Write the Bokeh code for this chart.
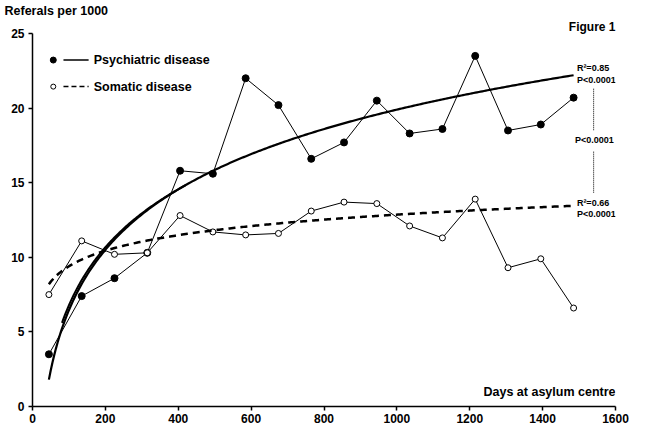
import numpy as np
from bokeh.plotting import figure
from bokeh.models import Range1d, Label, Title
from bokeh.embed import file_html
from bokeh.resources import INLINE

# ---- data ----
days = [45, 135, 225, 315, 405, 495, 585, 675, 765, 855, 945, 1035, 1125, 1215, 1305, 1395, 1485]
psychiatric = [3.5, 7.4, 8.6, 10.3, 15.8, 15.6, 22.0, 20.2, 16.6, 17.7, 20.5, 18.3, 18.6, 23.5, 18.5, 18.9, 20.7]
somatic = [7.5, 11.1, 10.2, 10.3, 12.8, 11.7, 11.5, 11.6, 13.1, 13.7, 13.6, 12.1, 11.3, 13.9, 9.3, 9.9, 6.6]

# logarithmic trend lines y = a + b*ln(x), coefficients
psy_fit_a, psy_fit_b = -20.41, 5.835
psy_fit2_a, psy_fit2_b = -19.02, 5.604
som_fit_a, som_fit_b = 2.483, 1.502

x_ticks = [0, 200, 400, 600, 800, 1000, 1200, 1400, 1600]
y_ticks = [0, 5, 10, 15, 20, 25]

FONT = "Liberation Sans"

p = figure(width=629, height=427, output_backend="svg", toolbar_location=None,
           x_range=Range1d(0, 1600), y_range=Range1d(0, 25),
           min_border_left=32, min_border_right=14, min_border_top=33, min_border_bottom=21)
p.outline_line_color = None
p.xgrid.visible = False
p.ygrid.visible = False
p.background_fill_color = "white"
p.border_fill_color = "white"

# titles above the frame: y-axis caption (outer) and "Figure 1" (inner)
p.title.text = "Referals per 1000"
p.title.align = "left"
p.title.offset = -28
p.title.standoff = 0
p.title.text_font = FONT
p.title.text_font_style = "bold"
p.title.text_font_size = "12.5px"
p.title.text_color = "black"
fig_title = Title(text="Figure 1", align="right", standoff=0, text_font=FONT,
                  text_font_style="bold", text_font_size="12px", text_color="black")
p.add_layout(fig_title, "above")

for ax in (p.xaxis[0], p.yaxis[0]):
    ax.axis_line_width = 1.5
    ax.major_tick_line_width = 1.5
    ax.major_tick_in = 0
    ax.major_tick_out = 4
    ax.minor_tick_line_color = None
    ax.major_label_text_font = FONT
    ax.major_label_text_font_style = "bold"
    ax.major_label_text_font_size = "12px"
    ax.major_label_text_color = "black"
    ax.axis_line_color = "black"
    ax.major_tick_line_color = "black"
p.xaxis.ticker = x_ticks
p.yaxis.ticker = y_ticks
p.xaxis.major_label_standoff = 3
p.yaxis.major_label_standoff = 4

# data series
p.line(days, psychiatric, line_color="black", line_width=1)
p.line(days, somatic, line_color="black", line_width=1)
p.scatter(days, psychiatric, size=7, fill_color="black", line_color="black")
p.scatter(days, somatic, size=6, fill_color="white", line_color="black", line_width=1)

# trend lines
xs = np.linspace(days[0], days[-1], 300)
p.line(xs, psy_fit_a + psy_fit_b * np.log(xs), line_color="black", line_width=2.2)
xs2 = np.linspace(81, 420, 120)
p.line(xs2, psy_fit2_a + psy_fit2_b * np.log(xs2), line_color="black", line_width=2)
p.line(xs, som_fit_a + som_fit_b * np.log(xs), line_color="black", line_width=2.5, line_dash="7 5")

# legend (drawn by hand: marker, then line, then text)
p.scatter([57], [23.22], size=6, fill_color="black", line_color="black")
p.line([85, 154], [23.22, 23.22], line_color="black", line_width=1.5)
p.scatter([57], [21.44], size=5, fill_color="white", line_color="black")
p.line([85, 154], [21.44, 21.44], line_color="black", line_width=1.5, line_dash="5 3")

def lab(x, y, text, size, align="left"):
    p.add_layout(Label(x=x, y=y, text=text, text_font=FONT, text_font_style="bold",
                       text_font_size=size, text_align=align, text_baseline="middle",
                       text_color="black"))

lab(168, 23.22, "Psychiatric disease", "12.5px")
lab(168, 21.44, "Somatic disease", "12.5px")
lab(1600, 0.99, "Days at asylum centre", "12.5px", align="right")

# significance annotations
lab(1494, 22.7, "R²=0.85", "9px")
lab(1494, 21.9, "P<0.0001", "9px")
p.line([1540, 1540], [21.3, 18.47], line_color="black", line_width=1, line_dash="1 1")
lab(1489, 17.88, "P<0.0001", "9px")
p.line([1540, 1540], [17.08, 14.31], line_color="black", line_width=1, line_dash="1 1")
lab(1494, 13.65, "R²=0.66", "9px")
lab(1494, 12.93, "P<0.0001", "9px")

open("out.html", "w").write(file_html(p, INLINE))
